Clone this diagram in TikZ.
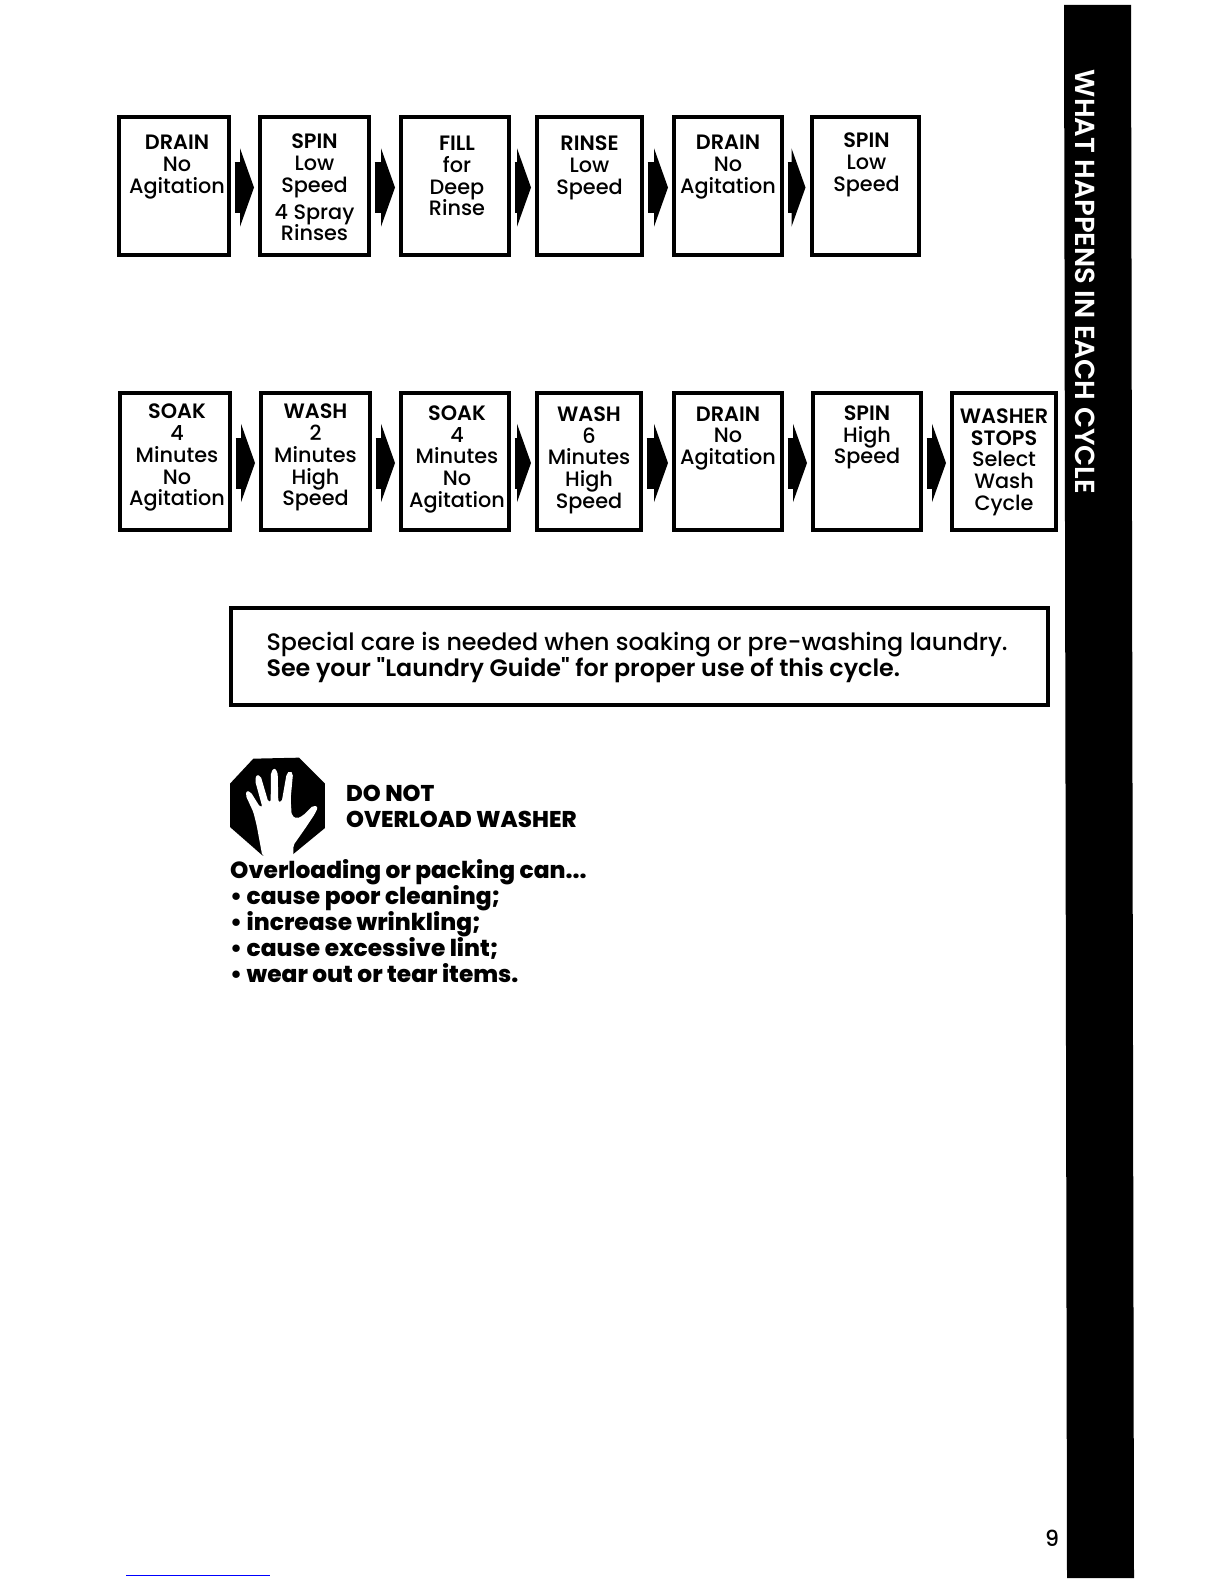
\documentclass[tikz,border=0pt]{standalone}
\usepackage{fontspec}
\setmainfont{Poppins}[Ligatures=TeXOff, UprightFont=* Medium, BoldFont=* SemiBold]
\newfontfamily\heavyfont{Poppins ExtraBold}
\usetikzlibrary{arrows.meta, positioning}

\newcommand{\steptext}[3][0pt]{\hspace*{#1}\parbox[c][126pt][t]{104pt}{\vspace*{#2}\centering #3}}

\begin{document}
\begin{tikzpicture}[
  x=1pt, y=-1pt,
  stepbox/.style={rectangle, draw, line width=4pt, inner sep=0pt, minimum height=137pt, font=\fontsize{20.8}{21.8}\selectfont},
  flowarrow/.style={-{Triangle[length=14pt,width=78pt]}, line width=51pt, shorten <=3.5pt, shorten >=4pt, transform canvas={yshift=-1.5pt}},
  notebox/.style={rectangle, draw, line width=4pt, minimum width=817pt, minimum height=97pt, inner sep=0pt},
  notetext/.style={font=\fontsize{23.8}{26}\selectfont, align=left, anchor=west},
  warnhead/.style={font=\fontsize{22.8}{25.8}\selectfont\heavyfont, align=left, anchor=north west, inner sep=0pt},
  warntext/.style={font=\fontsize{23.3}{26.1}\selectfont\heavyfont, align=left, anchor=north west, inner sep=0pt},
  sidetext/.style={font=\fontsize{27.5}{28}\selectfont\bfseries, text=white, rotate=-90}
]
  \useasboundingbox (0,0) rectangle (1224,1584);

  % first row
  \node[stepbox, minimum width=110pt] (draina) at (174,186) {\steptext[6pt]{12pt}{\textbf{DRAIN}\\No\\Agitation}};
  \node[stepbox, minimum width=109pt] (spina) at (314.5,186) {\steptext{11pt}{\textbf{SPIN}\\Low\\Speed\\[5pt]4 Spray\\Rinses}};
  \node[stepbox, minimum width=108pt] (fill) at (455,186) {\steptext[4pt]{13pt}{\textbf{FILL}\\for\\Deep\\Rinse}};
  \node[stepbox, minimum width=105pt] (rinse) at (589.5,186) {\steptext{13pt}{\textbf{RINSE}\\Low\\Speed}};
  \node[stepbox, minimum width=108pt] (drainb) at (728,186) {\steptext{12pt}{\textbf{DRAIN}\\No\\Agitation}};
  \node[stepbox, minimum width=104pt] (spinb) at (865,186) {\steptext[3pt]{10pt}{\textbf{SPIN}\\Low\\Speed}};

  \draw[flowarrow] (draina) -- (spina);
  \draw[flowarrow] (spina) -- (fill);
  \draw[flowarrow] (fill) -- (rinse);
  \draw[flowarrow] (rinse) -- (drainb);
  \draw[flowarrow] (drainb) -- (spinb);

  % second row
  \node[stepbox, minimum width=110pt] (soaka) at (175,461.5) {\steptext[4pt]{5.5pt}{\textbf{SOAK}\\4\\Minutes\\No\\Agitation}};
  \node[stepbox, minimum width=109pt] (washa) at (315.5,461.5) {\steptext{5.5pt}{\textbf{WASH}\\2\\Minutes\\High\\Speed}};
  \node[stepbox, minimum width=106pt] (soakb) at (455,461.5) {\steptext[4pt]{7pt}{\textbf{SOAK}\\4\\Minutes\\No\\Agitation}};
  \node[stepbox, minimum width=104pt] (washb) at (589,461.5) {\steptext{8pt}{\textbf{WASH}\\6\\Minutes\\High\\Speed}};
  \node[stepbox, minimum width=108pt] (drainc) at (728,461.5) {\steptext{8pt}{\textbf{DRAIN}\\No\\Agitation}};
  \node[stepbox, minimum width=108pt] (spinc) at (867,461.5) {\steptext{7pt}{\textbf{SPIN}\\High\\Speed}};
  \node[stepbox, minimum width=104pt] (stops) at (1004,461.5) {\steptext{10pt}{\textbf{WASHER}\\\textbf{STOPS}\\Select\\Wash\\Cycle}};

  \draw[flowarrow] (soaka) -- (washa);
  \draw[flowarrow] (washa) -- (soakb);
  \draw[flowarrow] (soakb) -- (washb);
  \draw[flowarrow] (washb) -- (drainc);
  \draw[flowarrow] (drainc) -- (spinc);
  \draw[flowarrow] (spinc) -- (stops);

  % care note
  \node[notebox] (note) at (639.5,656.5) {};
  \node[notetext] (notelines) at (263,657.5) {Special care is needed when soaking or pre-washing laundry.\\\textbf{See your "Laundry Guide" for proper use of this cycle.}};

  % stop sign with hand
  \begin{scope}[shift={(225,752)}, x=0.3333pt, y=-0.3333pt]
    \fill (15,95) -- (85,20) -- (222,17) -- (300,95) -- (300,228) -- (205,306) -- (112,310) -- (15,225) -- cycle;
    \fill[white, rounded corners=2pt] (112,312) -- (95,220) -- (85,180) -- (62,130) -- (65,116) -- (77,120) -- (105,165) -- (112,165)
      -- (90,85) -- (95,68) -- (107,72) -- (130,150) -- (137,150) -- (138,60) -- (148,48) -- (158,60) -- (160,150) -- (170,150)
      -- (185,65) -- (195,56) -- (204,65) -- (197,140) -- (200,190) -- (215,200) -- (235,190) -- (265,160) -- (279,165) -- (270,185)
      -- (240,230) -- (205,280) -- (205,312) -- cycle;
  \end{scope}

  \node[warnhead] (dontext) at (346,785) {DO NOT\\OVERLOAD WASHER};
  \node[warntext] (warnlist) at (230,859) {Overloading or packing can...\\\textbullet\ cause poor cleaning;\\\textbullet\ increase wrinkling;\\\textbullet\ cause excessive lint;\\\textbullet\ wear out or tear items.};

  % side tab
  \fill (1064,5) -- (1131,5) -- (1134,1578) -- (1067,1578) -- cycle;
  \node[sidetext] (tabtitle) at (1085,282) {WHAT HAPPENS IN EACH CYCLE};

  % page number and rule
  \node[font=\fontsize{22}{22}\selectfont] (pagenum) at (1052,1538) {9};
  \draw[blue, line width=1pt] (126,1575) -- (270,1575);
\end{tikzpicture}
\end{document}
